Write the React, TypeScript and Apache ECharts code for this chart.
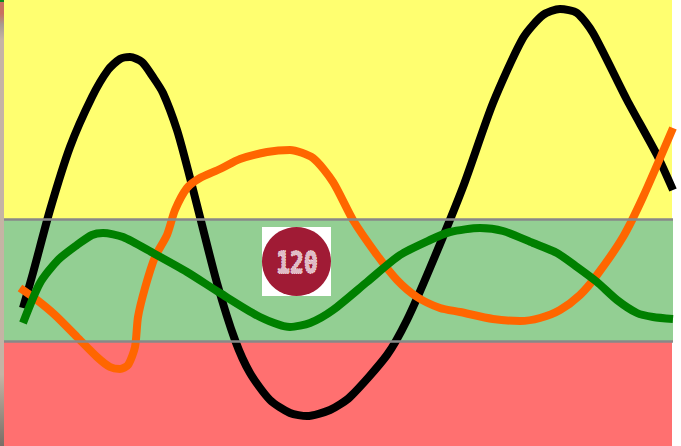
import React, { useEffect, useRef } from "react";
import * as echarts from "echarts";

const blackLine = [[23,308],[33,273],[50,210],[70,147],[92,97],[108,70],[120,59],[130,57],[142,62],[153,77],[163,93],[177,130],[188,170],[200,217],[217,283],[235,340],[250,373],[270,400],[290,413],[307,416],[330,410],[350,397],[387,355],[407,320],[430,268],[463,187],[493,103],[523,38],[543,15],[560,9],[577,13],[593,33],[627,100],[657,155],[673,190]];
const orangeLine = [[20,288],[37,300],[55,315],[77,337],[97,357],[110,367],[120,369],[128,365],[135,347],[138,317],[145,288],[155,257],[167,235],[175,210],[187,188],[200,178],[220,169],[240,159],[267,152],[290,150],[313,158],[333,182],[353,220],[377,255],[397,280],[417,297],[440,308],[460,312],[493,319],[520,321],[540,318],[560,310],[580,295],[597,275],[623,237],[643,197],[673,128]];
const greenLine = [[23,323],[40,283],[58,260],[77,245],[92,235],[103,233],[123,237],[153,253],[187,272],[220,293],[260,317],[290,327],[310,323],[333,310],[367,282],[400,255],[430,240],[450,232],[480,228],[503,231],[533,243],[557,253],[577,267],[597,282],[617,300],[637,313],[653,317],[673,319]];
const bandStops = [0, 219, 341, 446];
const bandEnds = [672, 673, 672];
const bandEdges = [219.5, 341.3];
const badgeLabel = "120";

const bandColors = ["#ffff70", "#93cf93", "#ff7070"];

export default function App() {
  const ref = useRef<HTMLDivElement>(null);
  useEffect(() => {
    document.body.style.margin = "0";
    const chart = echarts.init(ref.current!, null, { renderer: "svg" });
    const line = (name: string, data: number[][], color: string) => ({
      type: "line", name, data, smooth: 0.24, symbol: "none", silent: true,
      lineStyle: { color, width: 8, cap: "butt", join: "round" },
    });
    chart.setOption({
      animation: false,
      grid: { left: 0, right: 0, top: 0, bottom: 0 },
      xAxis: { type: "value", min: 0, max: 681, show: false },
      yAxis: { type: "value", min: 0, max: 446, inverse: true, show: false },
      series: [
        {
          type: "line", name: "bands", data: [], silent: true,
          markArea: {
            silent: true,
            data: bandColors.map((color, i) => [
              { xAxis: 4, yAxis: bandStops[i], itemStyle: { color, opacity: 1 } },
              { xAxis: bandEnds[i], yAxis: bandStops[i + 1] },
            ]),
          },
          markLine: {
            silent: true, symbol: "none", label: { show: false },
            lineStyle: { color: "#888888", width: 2.6, type: "solid" },
            data: bandEdges.map((y) => [{ xAxis: 4, yAxis: y }, { xAxis: 673, yAxis: y }]),
          },
        },
        line("black", blackLine, "#000000"),
        line("orange", orangeLine, "#ff6600"),
        line("green", greenLine, "#008000"),
      ],
      graphic: [
        {
          type: "rect", x: 0, y: 0, z: 100, shape: { width: 4, height: 446 }, silent: true,
          style: {
            fill: new echarts.graphic.LinearGradient(0, 0, 0, 1, [
              { offset: 0, color: "#c87060" },
              { offset: 0.03, color: "#c87060" },
              { offset: 0.055, color: "#a89a90" },
              { offset: 0.09, color: "#c6b4a4" },
              { offset: 0.84, color: "#c4b4a4" },
              { offset: 1, color: "#7a6e66" },
            ]),
          },
        },
        { type: "rect", x: 0, y: 0, z: 101, shape: { width: 4, height: 2 }, silent: true, style: { fill: "#0a8a20" } },
        { type: "rect", x: 262, y: 227, z: 100, shape: { width: 69, height: 69 }, silent: true, style: { fill: "#ffffff" } },
        { type: "circle", x: 296.5, y: 261.5, z: 101, shape: { r: 34.5 }, silent: true, style: { fill: "#a01b35" } },
        {
          type: "text", x: 297, y: 262, z: 102, scaleX: 0.74, silent: true,
          style: {
            text: badgeLabel, fill: "#e0bcc6", stroke: "#ffffff", lineWidth: 1.3, lineDash: [2, 0.8],
            font: "bold 31px 'DejaVu Sans Mono'",
            align: "center", verticalAlign: "middle",
          },
        },
      ],
    });
    return () => chart.dispose();
  }, []);
  return <div ref={ref} style={{ width: 681, height: 446 }} />;
}
